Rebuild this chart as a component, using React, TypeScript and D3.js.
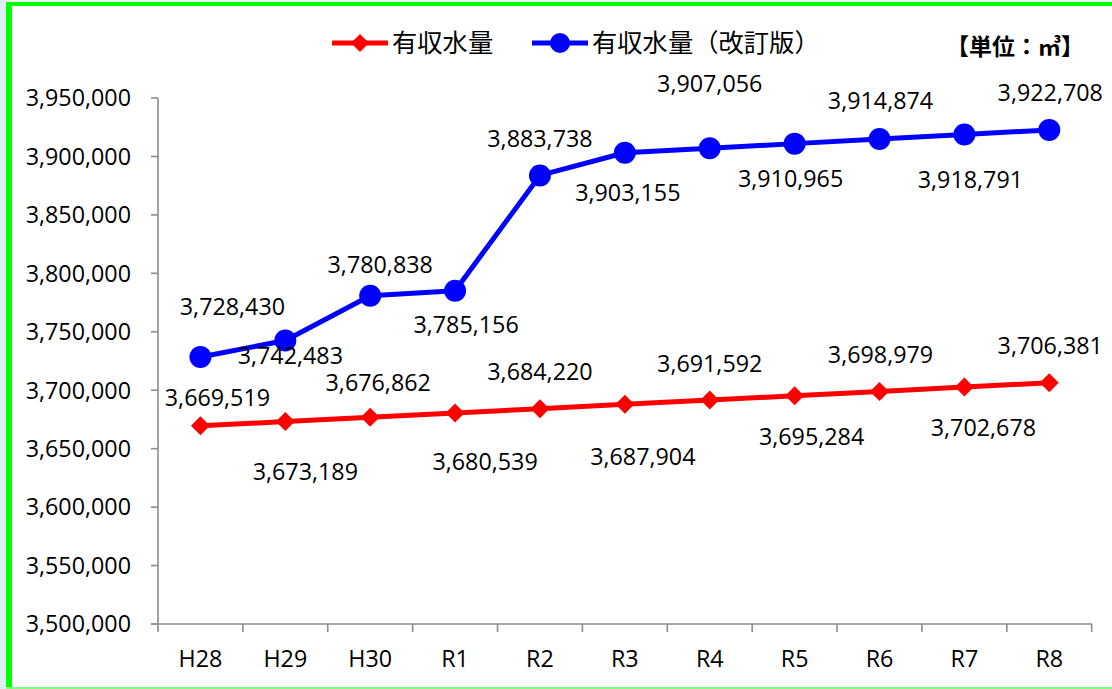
import React from "react";
import * as d3 from "d3";

const categories = ["H28", "H29", "H30", "R1", "R2", "R3", "R4", "R5", "R6", "R7", "R8"];
const redValues = [3669519, 3673189, 3676862, 3680539, 3684220, 3687904, 3691592, 3695284, 3698979, 3702678, 3706381];
const blueValues = [3728430, 3742483, 3780838, 3785156, 3883738, 3903155, 3907056, 3910965, 3914874, 3918791, 3922708];
const yTicks = [3500000, 3550000, 3600000, 3650000, 3700000, 3750000, 3800000, 3850000, 3900000, 3950000];
const redName = "有収水量";
const blueName = "有収水量（改訂版）";
const unitLabel = "【単位：㎥】";

// label placement offsets (layout, pixels)
const redLabelDx = [17, 20, 8, 30, 0, 18, 0, 17, 1, 19, 1];
const redLabelDy = [-28, 50, -35, 49, -37, 52, -36, 41, -37, 41, -37];
const blueLabelDx = [32, 5, 10, 11, 0, 3, 0, -4, 1, 6, 1];
const blueLabelDy = [-50, 15, -31, 34, -37, 40, -65, 35, -38, 45, -37];

const W = 1112;
const H = 689;
const plot = { left: 158, right: 1091.7, top: 98, bottom: 624 };
const FONT = "'Open Sans', 'Liberation Sans', sans-serif";
const CJK = "'Noto Sans CJK JP', sans-serif";
const FS = 23.3;
const RED = "#ff0000";
const BLUE = "#0000ff";
const AXIS = "#8c8c8c";

export default function App() {
  const x = d3.scaleBand<string>().domain(categories).range([plot.left, plot.right]).padding(0);
  const y = d3.scaleLinear().domain([3500000, 3950000]).range([plot.bottom, plot.top]);
  const cx = (i: number) => (x(categories[i]) as number) + x.bandwidth() / 2;
  const fmt = d3.format(",");
  const line = d3
    .line<number>()
    .x((_, i) => cx(i))
    .y((d) => y(d));
  const diamond = (px: number, py: number, r: number) =>
    `M${px},${py - r}L${px + r},${py}L${px},${py + r}L${px - r},${py}Z`;

  const boundaries = categories.map((c) => x(c) as number).concat([plot.right]);

  return (
    <div style={{ position: "fixed", left: 0, top: 0 }}>
      <svg width={W} height={H} style={{ display: "block", background: "#fff" }}>
        {/* frame */}
        <rect x={0} y={0} width={6} height={H} fill="#dcedf5" />
        <rect x={6} y={0} width={W - 6} height={2} fill="#eef7ee" />
        <rect x={6} y={2} width={6} height={H - 2} fill="#00ff00" />
        <rect x={6} y={2} width={W - 6} height={4} fill="#00ff00" />
        <rect x={6} y={687} width={W - 6} height={2} fill="#7dff7d" />

        {/* legend */}
        <g>
          <line x1={332} x2={388} y1={43} y2={43} stroke={RED} strokeWidth={5} />
          <path d={diamond(360, 43, 9)} fill={RED} />
          <text x={392} y={43} dy="0.36em" fontFamily={CJK} fontSize={25.3} fill="#000">
            {redName}
          </text>
          <line x1={532} x2={588} y1={43} y2={43} stroke={BLUE} strokeWidth={5} />
          <circle cx={560} cy={43} r={10} fill={BLUE} />
          <text x={592} y={43} dy="0.36em" fontFamily={CJK} fontSize={25.3} fill="#000">
            {blueName}
          </text>
        </g>
        <text x={1084} y={47} dy="0.36em" textAnchor="end" fontFamily={CJK} fontSize={23} fontWeight="bold" fill="#000">
          {unitLabel}
        </text>

        {/* y axis */}
        <line x1={plot.left} x2={plot.left} y1={plot.top} y2={plot.bottom} stroke={AXIS} strokeWidth={1.6} />
        {yTicks.map((t) => (
          <g key={t}>
            <line x1={plot.left - 7} x2={plot.left} y1={y(t)} y2={y(t)} stroke={AXIS} strokeWidth={1.6} />
            <text x={131} y={y(t)} dy="0.36em" textAnchor="end" fontFamily={FONT} fontSize={FS} fill="#000">
              {fmt(t)}
            </text>
          </g>
        ))}

        {/* x axis */}
        <line x1={plot.left - 7} x2={plot.right} y1={plot.bottom} y2={plot.bottom} stroke={AXIS} strokeWidth={1.6} />
        {boundaries.map((b, i) => (
          <line key={i} x1={b} x2={b} y1={plot.bottom} y2={plot.bottom + 8} stroke={AXIS} strokeWidth={1.6} />
        ))}
        {categories.map((c, i) => (
          <text key={c} x={cx(i)} y={659} dy="0.36em" textAnchor="middle" fontFamily={FONT} fontSize={FS} fill="#000">
            {c}
          </text>
        ))}

        {/* red series */}
        <path d={line(redValues) as string} fill="none" stroke={RED} strokeWidth={5} strokeLinejoin="round" />
        {redValues.map((v, i) => (
          <path key={i} d={diamond(cx(i), y(v), 9.5)} fill={RED} />
        ))}

        {/* blue series */}
        <path d={line(blueValues) as string} fill="none" stroke={BLUE} strokeWidth={5} strokeLinejoin="round" />
        {blueValues.map((v, i) => (
          <circle key={i} cx={cx(i)} cy={y(v)} r={11} fill={BLUE} />
        ))}

        {/* labels */}
        {redValues.map((v, i) => (
          <text
            key={"r" + i}
            x={cx(i) + redLabelDx[i]}
            y={y(v) + redLabelDy[i]}
            dy="0.36em"
            textAnchor="middle"
            fontFamily={FONT}
            fontSize={FS}
            fill="#000"
          >
            {fmt(v)}
          </text>
        ))}
        {blueValues.map((v, i) => (
          <text
            key={"b" + i}
            x={cx(i) + blueLabelDx[i]}
            y={y(v) + blueLabelDy[i]}
            dy="0.36em"
            textAnchor="middle"
            fontFamily={FONT}
            fontSize={FS}
            fill="#000"
          >
            {fmt(v)}
          </text>
        ))}
      </svg>
    </div>
  );
}
